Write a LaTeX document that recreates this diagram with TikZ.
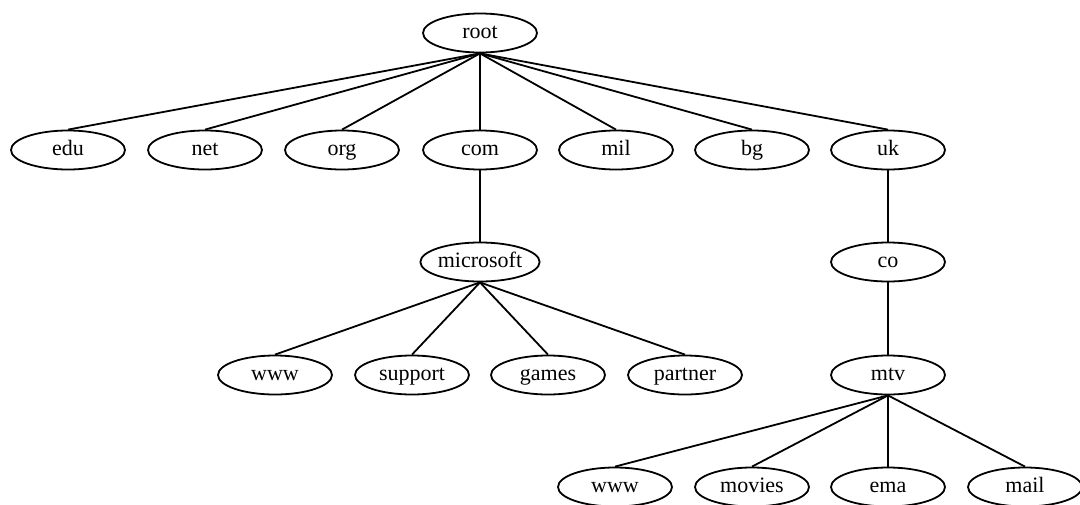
\documentclass[tikz,border=0pt]{standalone}
\usepackage{fontspec}
\setmainfont{Liberation Serif}
\usetikzlibrary{shapes.geometric}
\begin{document}
\begin{tikzpicture}[x=1pt,y=-1pt,
  nd/.style={ellipse,draw,line width=1.8pt,minimum width=114pt,minimum height=39pt,inner sep=0pt,text height=14pt,text depth=4pt,font=\fontsize{22}{24}\selectfont},
  ed/.style={line width=1.8pt}]
\useasboundingbox (0,0) rectangle (1080,504);
\node[nd] (root) at (480,33) {root};
\node[nd] (edu) at (68,150) {edu};
\node[nd] (net) at (205,150) {net};
\node[nd] (org) at (342,150) {org};
\node[nd] (com) at (480,150) {com};
\node[nd] (mil) at (616,150) {mil};
\node[nd] (bg) at (752,150) {bg};
\node[nd] (uk) at (888,150) {uk};
\node[nd] (ms) at (480,262) {microsoft};
\node[nd] (co) at (888,262) {co};
\node[nd] (www1) at (275,375) {www};
\node[nd] (sup) at (412,375) {support};
\node[nd] (gam) at (548,375) {games};
\node[nd] (par) at (685,375) {partner};
\node[nd] (mtv) at (888,375) {mtv};
\node[nd] (www2) at (615,487) {www};
\node[nd] (mov) at (752,487) {movies};
\node[nd] (ema) at (888,487) {ema};
\node[nd] (mail) at (1025,487) {mail};
\foreach \c in {edu,net,org,com,mil,bg,uk} \draw[ed] (root.south) -- (\c.north);
\draw[ed] (com.south) -- (ms.north);
\draw[ed] (uk.south) -- (co.north);
\draw[ed] (co.south) -- (mtv.north);
\foreach \c in {www1,sup,gam,par} \draw[ed] (ms.south) -- (\c.north);
\foreach \c in {www2,mov,ema,mail} \draw[ed] (mtv.south) -- (\c.north);
\end{tikzpicture}
\end{document}
